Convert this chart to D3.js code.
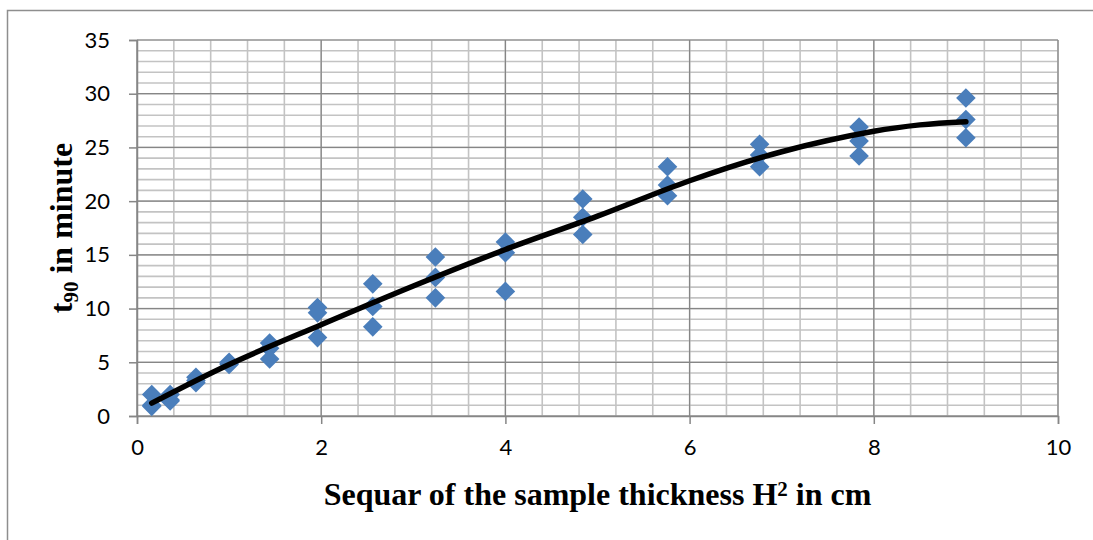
<!DOCTYPE html>
<html><head><meta charset="utf-8">
<script src="https://cdn.jsdelivr.net/npm/d3@7"></script>
<style>
html,body{margin:0;padding:0;background:#fff;}
svg{display:block;}
</style></head>
<body>
<svg id="chart" width="1093" height="540"></svg>
<script>
// ---- data ----
const xH2 = [0.16, 0.36, 0.64, 1.0, 1.44, 1.96, 2.56, 3.24, 4.0, 4.84, 5.76, 6.76, 7.84, 9.0];
const t90High = [2.0, 2.0, 3.6, 5.0, 6.8, 10.1, 12.3, 14.8, 16.2, 20.2, 23.2, 25.3, 26.9, 29.6];
const t90Mid  = [1.0, 1.5, 3.3, 4.9, 6.3, 9.6, 10.2, 12.9, 15.2, 18.5, 21.5, 24.3, 25.6, 27.6];
const t90Low  = [0.9, 1.4, 3.1, 4.8, 5.3, 7.3, 8.3, 11.0, 11.6, 16.9, 20.5, 23.2, 24.2, 25.9];
const trendX = [0.16, 1, 2, 3, 4, 5, 6, 7, 8, 8.5, 9];
const trendY = [1.2, 4.8, 8.5, 12.1, 15.5, 18.6, 21.9, 24.6, 26.5, 27.1, 27.4];
const xTicks = [0, 2, 4, 6, 8, 10];
const yTicks = [0, 5, 10, 15, 20, 25, 30, 35];
const xTitle = "Sequar of the sample thickness H";
const yTitle = "t";

const svg = d3.select("#chart");
const L = 137, R = 1058, T = 40, B = 416;
const x = d3.scaleLinear().domain([0, 10]).range([L, R]);
const y = d3.scaleLinear().domain([0, 35]).range([B, T]);

// outer border
svg.append("rect").attr("x", 7.5).attr("y", 10.5).attr("width", 1200).attr("height", 700)
  .attr("fill", "none").attr("stroke", "#8e8e8e").attr("stroke-width", 1.5);

const grid = svg.append("g");
// minor gridlines
d3.range(0, 10.001, 0.4).forEach(v => {
  grid.append("line").attr("x1", x(v)).attr("x2", x(v)).attr("y1", T).attr("y2", B)
    .attr("stroke", "#c3c3c3").attr("stroke-width", 1.6);
});
d3.range(0, 35.001, 1).forEach(v => {
  grid.append("line").attr("x1", L).attr("x2", R).attr("y1", y(v)).attr("y2", y(v))
    .attr("stroke", "#c3c3c3").attr("stroke-width", 1.6);
});
// major gridlines
xTicks.forEach(v => {
  grid.append("line").attr("x1", x(v)).attr("x2", x(v)).attr("y1", T).attr("y2", B)
    .attr("stroke", "#868686").attr("stroke-width", 1.2);
});
yTicks.forEach(v => {
  grid.append("line").attr("x1", L).attr("x2", R).attr("y1", y(v)).attr("y2", y(v))
    .attr("stroke", "#868686").attr("stroke-width", 1.2);
});

// axes
const xAxis = d3.axisBottom(x).tickValues(xTicks).tickSize(8).tickPadding(15).tickFormat(d3.format("d"));
const yAxis = d3.axisLeft(y).tickValues(yTicks).tickSize(8).tickPadding(19).tickFormat(d3.format("d"));
const gx = svg.append("g").attr("transform", `translate(0,${B})`).call(xAxis);
const gy = svg.append("g").attr("transform", `translate(${L},0)`).call(yAxis);
[gx, gy].forEach(g => {
  g.select(".domain").attr("stroke", "#868686").attr("stroke-width", 1.5);
  g.selectAll(".tick line").attr("stroke", "#868686").attr("stroke-width", 1.5);
  g.selectAll("text").attr("font-family", "Lato, 'Open Sans', sans-serif").attr("font-size", 22).attr("fill", "#000");
});

// points
const pts = [];
[t90High, t90Mid, t90Low].forEach(s => s.forEach((v, i) => pts.push([xH2[i], v])));
const h = 9.8;
const diamond = `M0,${-h}L${h},0L0,${h}L${-h},0Z`;
svg.append("g").selectAll("path").data(pts).join("path")
  .attr("d", diamond)
  .attr("transform", d => `translate(${x(d[0])},${y(d[1])})`)
  .attr("fill", "#4a7ebb");

// trendline
const line = d3.line().x(d => x(d[0])).y(d => y(d[1])).curve(d3.curveCatmullRom);
svg.append("path").datum(trendX.map((v, i) => [v, trendY[i]]))
  .attr("d", line).attr("fill", "none").attr("stroke", "#000")
  .attr("stroke-width", 5.5).attr("stroke-linecap", "round").attr("stroke-linejoin", "round");

// x title
const xt = svg.append("text").attr("x", (L + R) / 2).attr("y", 505).attr("text-anchor", "middle")
  .attr("font-family", "'Liberation Serif', 'Times New Roman', serif").attr("font-weight", "bold")
  .attr("font-size", 32).attr("fill", "#000");
xt.append("tspan").text(xTitle);
xt.append("tspan").attr("font-size", 21).attr("dy", -9).text("2");
xt.append("tspan").attr("dy", 9).text(" in cm");

// y title
const yt = svg.append("text").attr("transform", `translate(72,${(T + B) / 2}) rotate(-90)`)
  .attr("text-anchor", "middle")
  .attr("font-family", "'Liberation Serif', 'Times New Roman', serif").attr("font-weight", "bold")
  .attr("font-size", 32).attr("fill", "#000");
yt.append("tspan").text(yTitle);
yt.append("tspan").attr("font-size", 21).attr("dy", 6).text("90");
yt.append("tspan").attr("dy", -6).text(" in minute");
</script>
</body></html>
